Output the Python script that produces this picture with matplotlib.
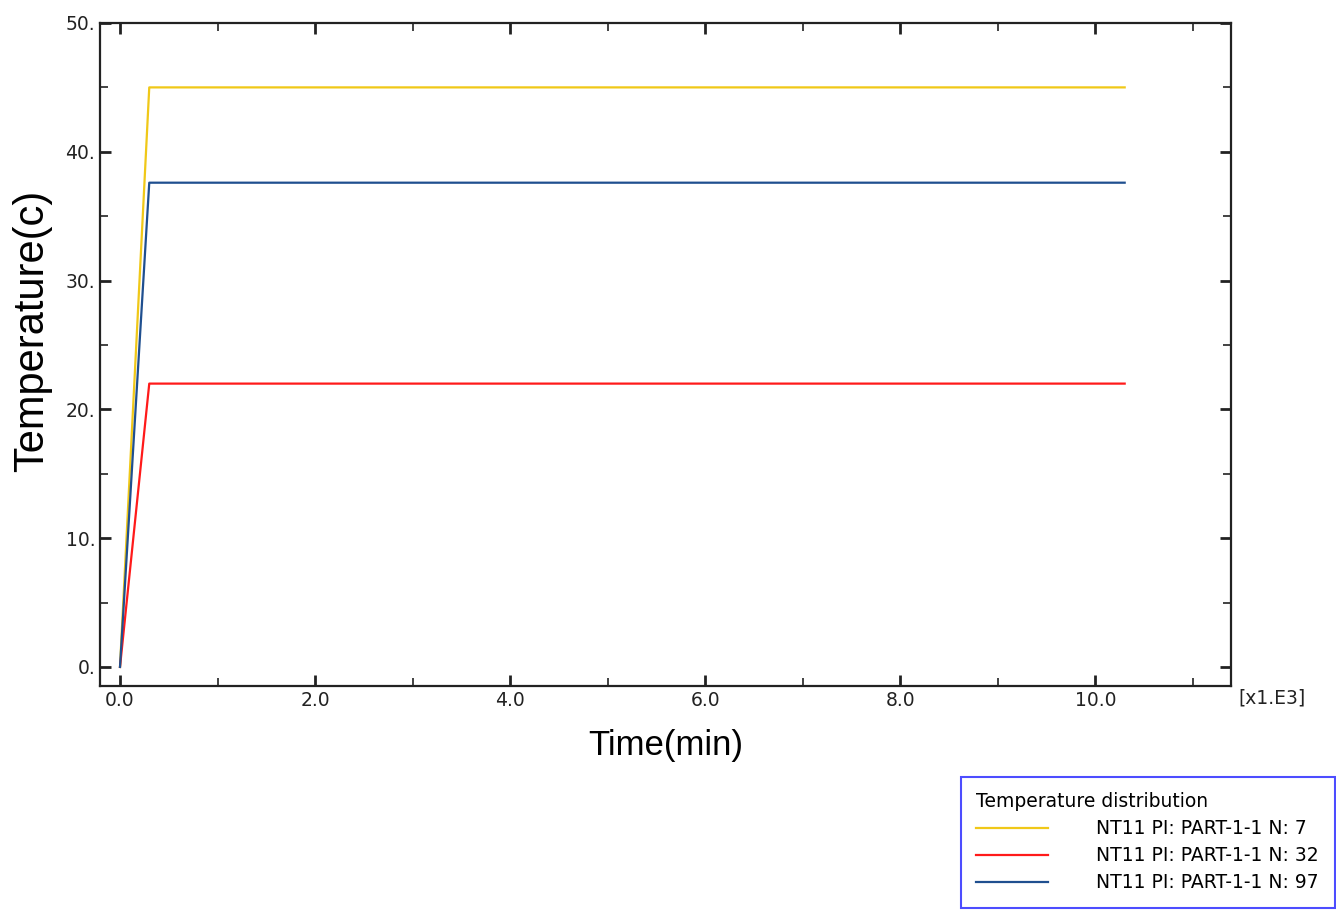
import matplotlib.pyplot as plt
from matplotlib.ticker import MultipleLocator, FormatStrFormatter

# Data (time in x1.E3 min, temperature in C)
time = [0.0, 0.3, 10.3]
temp_n7 = [0.0, 45.0, 45.0]
temp_n32 = [0.0, 22.0, 22.0]
temp_n97 = [0.0, 37.6, 37.6]
labels = ['NT11 PI: PART-1-1 N: 7', 'NT11 PI: PART-1-1 N: 32', 'NT11 PI: PART-1-1 N: 97']
colors = ['#f0c818', '#ff1a1a', '#1f4f8f']

fig = plt.figure(figsize=(13.36, 9.10), dpi=100)
ax = fig.add_axes([100 / 1336, 1 - 686 / 910, 1131 / 1336, 663 / 910])

lines = []
for y, c in zip([temp_n7, temp_n32, temp_n97], colors):
    l, = ax.plot(time, y, color=c, lw=1.6)
    lines.append(l)

ax.set_xlim(-0.205, 11.39)
ax.set_ylim(-1.48, 50)
ax.xaxis.set_major_locator(MultipleLocator(2))
ax.xaxis.set_minor_locator(MultipleLocator(1))
ax.yaxis.set_major_locator(MultipleLocator(10))
ax.yaxis.set_minor_locator(MultipleLocator(5))
ax.xaxis.set_major_formatter(FormatStrFormatter('%.1f'))
ax.yaxis.set_major_formatter(FormatStrFormatter('%d.'))
ax.tick_params(which='both', direction='in', top=True, right=True, labelsize=13.5, colors='#222222')
ax.tick_params(which='major', length=8, width=2)
ax.tick_params(which='minor', length=6, width=1.2)
for s in ax.spines.values():
    s.set_linewidth(1.6)
    s.set_color('#222222')

ax.set_xlabel('Time(min)', fontsize=25, family='Liberation Sans', labelpad=14)
ax.set_ylabel('Temperature(c)', fontsize=30, family='Liberation Sans')
ax.yaxis.set_label_coords(-0.042, 0.535)
fig.text(1238 / 1336, 1 - 698 / 910, '[x1.E3]', fontsize=13.5, color='#222222', va='center')

# Legend box
leg = fig.legend(lines, labels, title='Temperature distribution', loc='lower right',
                 bbox_to_anchor=(1335 / 1336, 2 / 910), fontsize=13.5, title_fontsize=13.5,
                 frameon=True, fancybox=False, handlelength=3.8, handletextpad=2.6,
                 borderpad=0.85, labelspacing=0.42, borderaxespad=0.0)
leg._legend_box.align = 'left'
leg.get_frame().set_edgecolor('#2020ff')
leg.get_frame().set_linewidth(1.5)

fig.savefig('out.png', dpi=100)
